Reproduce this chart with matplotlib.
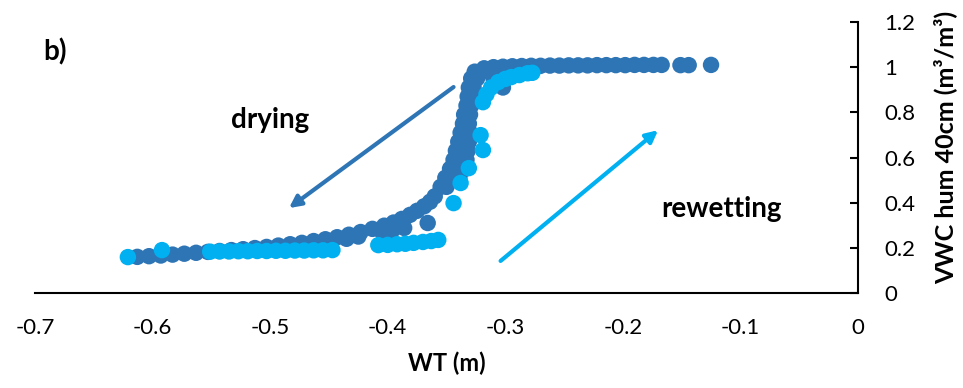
import matplotlib
matplotlib.use("Agg")
import matplotlib.pyplot as plt

plt.rcParams['font.family'] = ['Lato', 'DejaVu Sans']

# drying branch (dark blue)
dry_wt = [-0.613, -0.603, -0.593, -0.583, -0.573, -0.563, -0.553, -0.543, -0.533, -0.523,
          -0.513, -0.503, -0.493, -0.483, -0.473, -0.463, -0.453, -0.443, -0.433, -0.423,
          -0.413, -0.403, -0.395, -0.388, -0.381, -0.375, -0.369, -0.364, -0.360,
          -0.366, -0.396, -0.386, -0.405, -0.425, -0.435,
          -0.355, -0.350,
          -0.351, -0.345, -0.339,
          -0.347, -0.341, -0.334,
          -0.344, -0.338, -0.333,
          -0.342, -0.337, -0.332,
          -0.340, -0.335, -0.331,
          -0.338, -0.334, -0.330,
          -0.336, -0.331, -0.335, -0.330, -0.333, -0.329, -0.332, -0.328,
          -0.331, -0.327, -0.329, -0.324, -0.326, -0.320,
          -0.310, -0.302,
          -0.318, -0.310, -0.302, -0.294, -0.286, -0.278, -0.270, -0.262, -0.254, -0.246,
          -0.238, -0.230, -0.222, -0.214, -0.206, -0.198, -0.190, -0.182, -0.174, -0.167,
          -0.151, -0.144, -0.125]
dry_vwc = [0.160, 0.163, 0.166, 0.170, 0.174, 0.178, 0.182, 0.186, 0.190, 0.194,
           0.199, 0.204, 0.210, 0.216, 0.222, 0.230, 0.238, 0.247, 0.258, 0.270,
           0.284, 0.298, 0.312, 0.328, 0.346, 0.364, 0.384, 0.404, 0.428,
           0.310, 0.278, 0.288, 0.272, 0.250, 0.240,
           0.470, 0.470,
           0.510, 0.510, 0.510,
           0.550, 0.550, 0.550,
           0.590, 0.590, 0.590,
           0.630, 0.630, 0.630,
           0.670, 0.670, 0.670,
           0.710, 0.710, 0.710,
           0.750, 0.750, 0.790, 0.790, 0.830, 0.830, 0.870, 0.870,
           0.910, 0.910, 0.950, 0.950, 0.980, 0.980,
           0.950, 0.910,
           0.995, 1.000, 1.002, 1.004, 1.005, 1.006, 1.006, 1.007, 1.007, 1.008,
           1.008, 1.008, 1.009, 1.009, 1.009, 1.009, 1.010, 1.010, 1.010, 1.010,
           1.009, 1.009, 1.010]

# rewetting branch (light blue)
wet_wt = [-0.621, -0.592, -0.551, -0.543, -0.535, -0.527, -0.519, -0.511, -0.503, -0.495,
          -0.487, -0.479, -0.471, -0.463, -0.455, -0.447,
          -0.408, -0.400, -0.392, -0.385, -0.378, -0.370, -0.363, -0.357,
          -0.344, -0.338, -0.331, -0.319, -0.321, -0.319, -0.316, -0.312, -0.306, -0.300,
          -0.295, -0.288, -0.281, -0.277]
wet_vwc = [0.159, 0.190, 0.183, 0.184, 0.184, 0.185, 0.185, 0.186, 0.186, 0.187,
           0.187, 0.188, 0.188, 0.189, 0.189, 0.190,
           0.212, 0.213, 0.216, 0.218, 0.222, 0.226, 0.230, 0.235,
           0.398, 0.487, 0.553, 0.633, 0.699, 0.845, 0.880, 0.910, 0.934, 0.948,
           0.956, 0.965, 0.973, 0.975]

dark = '#2E75B6'
light = '#00B0F0'

fig = plt.figure(figsize=(9.63, 3.88), dpi=100)
ax = fig.add_axes([35 / 963, 95 / 388, 823 / 963, 271 / 388])

ax.scatter(dry_wt, dry_vwc, s=140, color=dark, edgecolors='none', zorder=3)
ax.scatter(wet_wt, wet_vwc, s=140, color=light, edgecolors='none', zorder=4)

# direction arrows
ax.annotate('', xy=(-0.484, 0.376), xytext=(-0.344, 0.912),
            arrowprops=dict(arrowstyle='-|>,head_length=0.7,head_width=0.35',
                            color=dark, lw=3, shrinkA=0, shrinkB=0), zorder=2)
ax.annotate('', xy=(-0.170, 0.721), xytext=(-0.304, 0.142),
            arrowprops=dict(arrowstyle='-|>,head_length=0.7,head_width=0.35',
                            color=light, lw=3, shrinkA=0, shrinkB=0), zorder=2)

ax.text(-0.500, 0.766, 'drying', fontsize=20, fontweight='bold', ha='center', va='center')
ax.text(-0.116, 0.372, 'rewetting', fontsize=20, fontweight='bold', ha='center', va='center')
fig.text(55 / 963, 1 - 52 / 388, 'b)', fontsize=20, fontweight='bold', ha='center', va='center')

ax.set_xlim(-0.7, 0)
ax.set_ylim(0, 1.2)
ax.set_xticks([-0.7, -0.6, -0.5, -0.4, -0.3, -0.2, -0.1, 0])
ax.set_xticklabels(['-0.7', '-0.6', '-0.5', '-0.4', '-0.3', '-0.2', '-0.1', '0'])
ax.set_yticks([0, 0.2, 0.4, 0.6, 0.8, 1.0, 1.2])
ax.set_yticklabels(['0', '0.2', '0.4', '0.6', '0.8', '1', '1.2'])

ax.yaxis.tick_right()
ax.tick_params(axis='x', length=0, pad=18, labelsize=16)
ax.tick_params(axis='y', direction='in', length=6, width=1.5, pad=19, labelsize=16)
for lbl in ax.get_yticklabels():
    lbl.set_horizontalalignment('left')

ax.spines['top'].set_visible(False)
ax.spines['left'].set_visible(False)
ax.spines['bottom'].set_linewidth(1.5)
ax.spines['right'].set_linewidth(1.5)

ax.set_xlabel('WT (m)', fontsize=17, fontweight='bold', labelpad=10)
fig.text(945 / 963, 1 - 147 / 388, 'VWC hum 40cm (m³/m³)', fontsize=18,
         fontweight='bold', rotation=90, ha='center', va='center')

fig.savefig('out.png', dpi=100)
